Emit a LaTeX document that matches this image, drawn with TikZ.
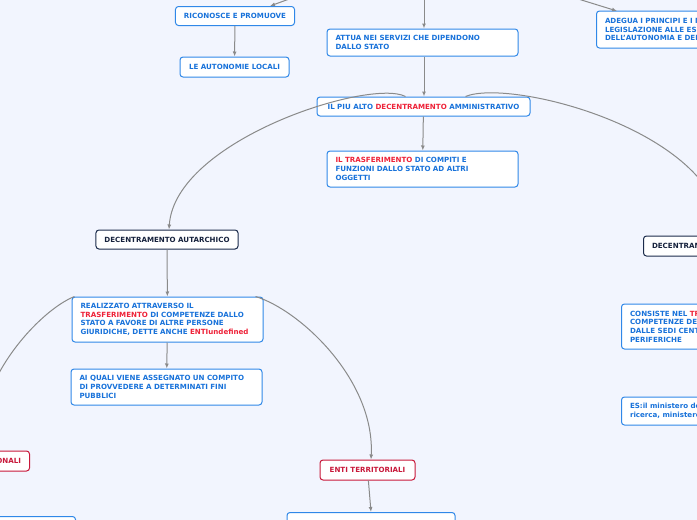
\documentclass[tikz,border=0pt]{standalone}
\usepackage{fontspec}
\setmainfont{DejaVu Sans}
\usetikzlibrary{arrows.meta}
\definecolor{bg}{HTML}{F2F5FE}
\definecolor{tblue}{HTML}{1872DA}
\definecolor{bblue}{HTML}{3088E8}
\definecolor{tred}{HTML}{EE2238}
\definecolor{dnavy}{HTML}{1B2B4B}
\definecolor{dtext}{HTML}{15213C}
\definecolor{rnode}{HTML}{C8183A}
\definecolor{cgray}{HTML}{8A8A8A}
\newcommand{\rd}[1]{\textcolor{tred}{#1}}
\tikzset{
  boxbase/.style={draw, rounded corners=3pt, fill=white, line width=1pt,
    font=\fontsize{7.1}{8.7}\selectfont\bfseries, inner xsep=8.5pt, inner ysep=0pt, align=left},
  bbox/.style={boxbase, draw=bblue, text=tblue},
  dbox/.style={boxbase, draw=dnavy, text=dtext, align=center},
  rbox/.style={boxbase, draw=rnode, text=rnode, align=center},
  conn/.style={draw=cgray, line width=1pt, -{Latex[length=5pt,width=4pt]}}
}
\begin{document}
\begin{tikzpicture}[x=1pt,y=-1pt]
\useasboundingbox (0,0) rectangle (697,520);
\fill[bg] (0,0) rectangle (697,520);
\clip (0,0) rectangle (697,520);

\node[bbox, align=center, minimum width=118pt, minimum height=19pt] (ric) at (235,16) {RICONOSCE E PROMUOVE};
\node[bbox, align=center, minimum width=109pt, minimum height=20pt] (aut) at (234.5,67) {LE AUTONOMIE LOCALI};
\node[bbox, text width=174pt, minimum height=27pt] (attua) at (422.5,42.5) {ATTUA NEI SERVIZI CHE DIPENDONO\\DALLO STATO};
\node[bbox, anchor=west, text width=200pt, minimum height=37pt] (adegua) at (596,29.5) {ADEGUA I PRINCIPI E I METODI DELLA SUA\\LEGISLAZIONE ALLE ESIGENZE\\DELL'AUTONOMIA E DEL DECENTRAMENTO};
\node[bbox, align=center, minimum width=213pt, minimum height=19pt] (alto) at (423.5,106.5) {IL PIU ALTO \rd{DECENTRAMENTO} AMMINISTRATIVO};
\node[bbox, text width=174pt, minimum height=36pt] (trasf) at (422.5,169) {\rd{IL TRASFERIMENTO} DI COMPITI E\\FUNZIONI DALLO STATO AD ALTRI\\OGGETTI};
\node[dbox, minimum width=142pt, minimum height=19pt] (autarch) at (167,239.5) {DECENTRAMENTO AUTARCHICO};
\node[dbox, anchor=west, minimum height=20pt] (buro) at (643,246) {DECENTRAMENTO BUROCRATICO};
\node[bbox, text width=174pt, minimum height=45pt] (real) at (167.5,319.5) {REALIZZATO ATTRAVERSO IL\\\rd{TRASFERIMENTO} DI COMPETENZE DALLO\\STATO A FAVORE DI ALTRE PERSONE\\GIURIDICHE, DETTE ANCHE \rd{ENTIundefined}};
\node[bbox, text width=174pt, minimum height=36pt] (quali) at (166.5,387) {AI QUALI VIENE ASSEGNATO UN COMPITO\\DI PROVVEDERE A DETERMINATI FINI\\PUBBLICI};
\node[bbox, anchor=west, text width=200pt, minimum height=45pt] (cons) at (621,326.5) {CONSISTE NEL \rd{TRASFERIMENTO} DI\\COMPETENZE DEGLI ORGANI\\DALLE SEDI CENTRALI A QUELLE\\PERIFERICHE};
\node[bbox, anchor=west, text width=200pt, minimum height=28pt] (es) at (621,411) {ES:il ministero dell'istruzione, università e\\ricerca, ministero dell'interno};
\node[rbox, anchor=east, minimum height=20pt] (istit) at (30,461) {ENTI ISTITUZIONALI};
\node[rbox, minimum width=95pt, minimum height=20pt] (terr) at (367.5,470) {ENTI TERRITORIALI};
\node[bbox, anchor=north east, minimum width=150pt, minimum height=30pt] (bl) at (76,516) {};
\node[bbox, anchor=north, minimum width=168pt, minimum height=30pt] (bm) at (371,512) {};

\coordinate (c1) at (292,-2);
\coordinate (c2) at (424,-2);
\coordinate (c3) at (575,-2);
\draw[conn] (c1) -- ([xshift=35pt]ric.north);
\draw[conn] (c2) -- ([xshift=1.5pt]attua.north);
\draw[conn] (c3) -- ([xshift=21pt,yshift=-0.5pt]adegua.north west);
\draw[conn] (ric) -- (aut);
\draw[conn] ([xshift=1.5pt]attua.south) -- ([xshift=0.5pt]alto.north);
\draw[conn] (alto) -- (trasf);
\draw[conn] ([xshift=-18pt]alto.north) .. controls (370,78) and (175,140) .. ([xshift=2pt]autarch.north);
\draw[conn] ([xshift=42pt]alto.north) .. controls (510,78) and (715,130) .. ([xshift=80pt]buro.north west);
\draw[conn] (autarch) -- (real);
\draw[conn] (real) -- (quali);
\draw[conn] ([xshift=3pt]real.north west) .. controls (40,310) and (-25,380) .. (istit.north);
\draw[conn] ([xshift=-8pt]real.north east) .. controls (300,310) and (375,380) .. ([xshift=3.5pt]terr.north);
\draw[conn] (terr) -- (bm.north);
\end{tikzpicture}
\end{document}
